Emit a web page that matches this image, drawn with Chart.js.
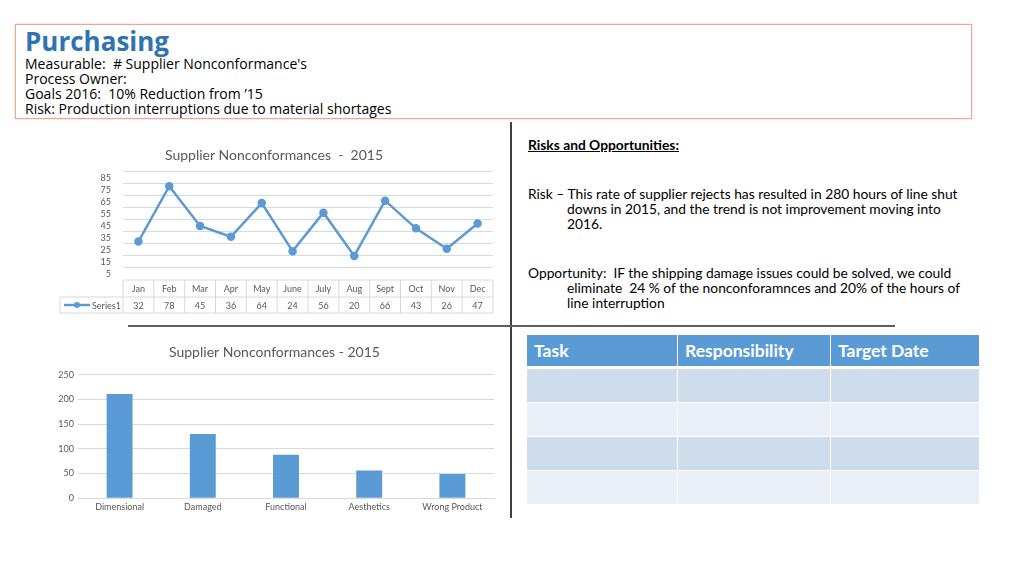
<!DOCTYPE html>
<html>
<head>
<meta charset="utf-8">
<script src="https://cdn.jsdelivr.net/npm/chart.js@4"></script>
<style>
  body { margin: 0; width: 1024px; height: 575px; background: #fff; position: relative; overflow: hidden; font-family: "Lato", sans-serif; }
  .header { position: absolute; left: 15px; top: 24px; width: 955px; height: 93px; border: 1px solid #f2a594; box-shadow: 0 0 2px #f7c9bd; font-family: "Open Sans", sans-serif; color: #000; }
  .header h1 { margin: 0; position: absolute; left: 9px; top: -2px; font-size: 26px; font-weight: 700; color: #2e74b5; }
  .header .lines { position: absolute; left: 9px; top: 31px; font-size: 14px; line-height: 15px; }
  .box { position: absolute; }
  .vline { position: absolute; left: 510px; top: 122px; width: 2px; height: 396px; background: #404040; }
  .hline { position: absolute; left: 128px; top: 325px; width: 767px; height: 2px; background: #606060; }
  .ro { position: absolute; left: 528px; top: 137px; width: 436px; font-size: 13.8px; line-height: 15px; color: #000; }
  .ro .head { font-weight: 700; text-decoration: underline; }
  .ro p { margin: 0; padding-left: 39px; text-indent: -39px; }
  table.tasks { position: absolute; left: 527px; top: 335px; width: 453px; border-collapse: collapse; font-family: "Lato", sans-serif; }
  table.tasks th { background: #5b9bd5; color: #fff; text-align: left; font-size: 17.5px; font-weight: 700; height: 31px; padding: 0 0 0 7px; border-right: 1px solid #fff; border-bottom: 3px solid #fff; }
  table.tasks td { height: 33px; padding: 0; border-right: 1px solid #fff; border-bottom: 1px solid #fff; }
  table.tasks tr.a td { background: #cfdcec; }
  table.tasks tr.b td { background: #e9eff7; }
</style>
</head>
<body>
<div class="header">
  <h1>Purchasing</h1>
  <div class="lines">Measurable:&nbsp; # Supplier Nonconformance's<br>Process Owner:<br>Goals 2016:&nbsp; 10% Reduction from ’15<br>Risk: Production interruptions due to material shortages</div>
</div>

<div class="box" style="left:55px;top:135px;width:445px;height:190px;"><canvas id="lineChart"></canvas></div>
<div class="box" style="left:55px;top:335px;width:445px;height:185px;"><canvas id="barChart"></canvas></div>

<div class="vline"></div>
<div class="hline"></div>

<div class="ro">
  <div class="head">Risks and Opportunities:</div>
  <div style="height:34px"></div>
  <p>Risk – This rate of supplier rejects has resulted in 280 hours of line shut downs in 2015, and the trend is not improvement moving into 2016.</p>
  <div style="height:34px"></div>
  <p>Opportunity:&nbsp; IF the shipping damage issues could be solved, we could eliminate&nbsp; 24 % of the nonconforamnces and 20% of the hours of line interruption</p>
</div>

<table class="tasks">
  <tr><th style="width:143px">Task</th><th style="width:145px">Responsibility</th><th>Target Date</th></tr>
  <tr class="a"><td></td><td></td><td></td></tr>
  <tr class="b"><td></td><td></td><td></td></tr>
  <tr class="a"><td></td><td></td><td></td></tr>
  <tr class="b"><td></td><td></td><td></td></tr>
</table>

<script>
const months = ["Jan", "Feb", "Mar", "Apr", "May", "June", "July", "Aug", "Sept", "Oct", "Nov", "Dec"];
const series1 = [32, 78, 45, 36, 64, 24, 56, 20, 66, 43, 26, 47];
const lineTicks = [5, 15, 25, 35, 45, 55, 65, 75, 85];
const lineGrid = [10, 20, 30, 40, 50, 60, 70, 80, 90];

const defects = ["Dimensional", "Damaged", "Functional", "Aesthetics", "Wrong Product"];
const defectCounts = [211, 130, 88, 56, 49];
const barTicks = [0, 50, 100, 150, 200, 250];

const blue = "#5b9bd5";
const grey = "#595959";
Chart.defaults.font.family = "Lato, sans-serif";
Chart.defaults.color = grey;
Chart.defaults.animation = false;

// draws the data table under the line chart, cells follow the x scale
const dataTable = {
  id: "dataTable",
  afterDraw(chart) {
    const ctx = chart.ctx;
    const x = chart.scales.x;
    const area = chart.chartArea;
    const cell = (area.right - area.left) / months.length;
    const top = area.bottom + 6, mid = top + 17, bot = mid + 16;
    const legendLeft = 5;
    ctx.save();
    ctx.strokeStyle = "#d9d9d9";
    ctx.lineWidth = 1;
    ctx.beginPath();
    ctx.moveTo(area.left, top); ctx.lineTo(area.right, top);
    ctx.moveTo(legendLeft, mid); ctx.lineTo(area.right, mid);
    ctx.moveTo(legendLeft, bot); ctx.lineTo(area.right, bot);
    ctx.moveTo(legendLeft, mid); ctx.lineTo(legendLeft, bot);
    for (let i = 0; i <= months.length; i++) {
      const px = area.left + i * cell;
      ctx.moveTo(px, top); ctx.lineTo(px, bot);
    }
    ctx.stroke();
    ctx.fillStyle = grey;
    ctx.font = "9px Lato, sans-serif";
    ctx.textAlign = "center";
    ctx.textBaseline = "middle";
    months.forEach((m, i) => {
      const cx = x.getPixelForValue(i);
      ctx.fillText(m, cx, (top + mid) / 2 + 1);
      ctx.fillText(String(series1[i]), cx, (mid + bot) / 2 + 1);
    });
    // legend key
    const ly = (mid + bot) / 2;
    ctx.strokeStyle = blue;
    ctx.lineWidth = 2.5;
    ctx.beginPath(); ctx.moveTo(legendLeft + 4, ly); ctx.lineTo(legendLeft + 30, ly); ctx.stroke();
    ctx.fillStyle = blue;
    ctx.beginPath(); ctx.arc(legendLeft + 17, ly, 3, 0, Math.PI * 2); ctx.fill();
    ctx.fillStyle = grey;
    ctx.textAlign = "left";
    ctx.fillText("Series1", legendLeft + 32, ly + 1);
    ctx.restore();
  }
};

new Chart(document.getElementById("lineChart"), {
  type: "line",
  data: {
    labels: months,
    datasets: [{
      label: "Series1",
      data: series1,
      borderColor: blue,
      backgroundColor: blue,
      borderWidth: 2.5,
      pointRadius: 3,
      tension: 0,
    }],
  },
  options: {
    responsive: true,
    maintainAspectRatio: false,
    layout: { padding: { left: 0, right: 7, bottom: 51 } },
    plugins: {
      legend: { display: false },
      tooltip: { enabled: false },
      title: { display: true, text: "Supplier Nonconformances  -  2015", color: grey, font: { size: 14, weight: "normal" }, padding: { top: 12, bottom: 8 } },
    },
    scales: {
      x: { display: false, offset: true },
      y: {
        min: 5, max: 90,
        afterBuildTicks: (s) => { s.ticks = lineTicks.map(v => ({ value: v })); },
        afterFit: (s) => { s.width = 68; },
        grid: { display: false },
        border: { display: false },
        ticks: { font: { size: 9 }, color: grey, padding: 4, autoSkip: false },
      },
      yGrid: {
        position: "left",
        min: 5, max: 90,
        afterBuildTicks: (s) => { s.ticks = lineGrid.map(v => ({ value: v })); },
        afterFit: (s) => { s.width = 0; },
        grid: { color: "#d9d9d9", drawTicks: false },
        border: { display: false },
        ticks: { display: false },
      },
    },
  },
  plugins: [dataTable],
});

new Chart(document.getElementById("barChart"), {
  type: "bar",
  data: {
    labels: defects,
    datasets: [{
      label: "Nonconformances",
      data: defectCounts,
      backgroundColor: blue,
      barPercentage: 0.52,
      categoryPercentage: 0.6,
    }],
  },
  options: {
    responsive: true,
    maintainAspectRatio: false,
    layout: { padding: { right: 6, bottom: 5 } },
    plugins: {
      legend: { display: false },
      tooltip: { enabled: false },
      title: { display: true, text: "Supplier Nonconformances - 2015", color: grey, font: { size: 14, weight: "normal" }, padding: { top: 9, bottom: 14 } },
    },
    scales: {
      x: {
        grid: { display: false, drawTicks: false },
        border: { color: "#d9d9d9" },
        ticks: { font: { size: 9 }, color: grey, padding: 3, maxRotation: 0 },
      },
      y: {
        min: 0, max: 250,
        afterBuildTicks: (s) => { s.ticks = barTicks.map(v => ({ value: v })); },
        afterFit: (s) => { s.width = 23; },
        grid: { color: "#d9d9d9", drawTicks: false },
        border: { display: false },
        ticks: { font: { size: 9 }, color: grey, padding: 4 },
      },
    },
  },
});
</script>
</body>
</html>
